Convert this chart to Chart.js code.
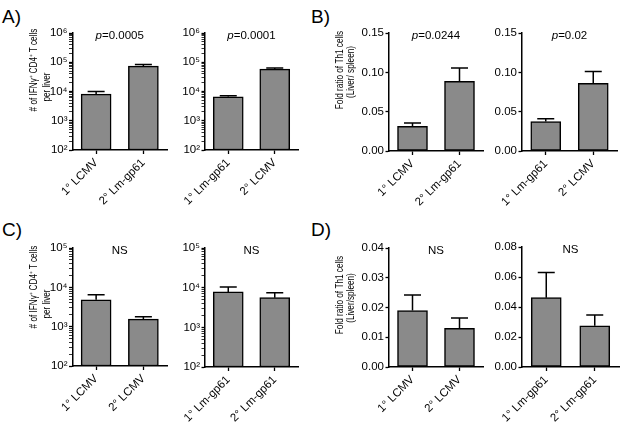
<!DOCTYPE html>
<html>
<head>
<meta charset="utf-8">
<script src="https://cdn.jsdelivr.net/npm/chart.js@4.4.0/dist/chart.umd.min.js"></script>
<style>
  body { margin: 0; background: #fff; }
  #fig { position: relative; width: 624px; height: 427px; overflow: hidden; font-family: 'Liberation Sans', Arial, sans-serif; }
  #fig canvas { position: absolute; }
  .letter { position: absolute; font-size: 19px; line-height: 1; color: #000; }
</style>
</head>
<body>
<div id="fig">
  <div class="letter" style="left:2px;top:7px">A)</div>
  <div class="letter" style="left:311px;top:7px">B)</div>
  <div class="letter" style="left:2px;top:220px">C)</div>
  <div class="letter" style="left:311px;top:220px">D)</div>
  <canvas id="a1"></canvas>
  <canvas id="a2"></canvas>
  <canvas id="b1"></canvas>
  <canvas id="b2"></canvas>
  <canvas id="c1"></canvas>
  <canvas id="c2"></canvas>
  <canvas id="d1"></canvas>
  <canvas id="d2"></canvas>
</div>
<script>
// Data (mean and mean + SEM)
const labelsA1 = ['1° LCMV', '2° Lm-gp61'];
const meansA1 = [8100, 74000];
const upperA1 = [10000, 83000];

const labelsA2 = ['1° Lm-gp61', '2° LCMV'];
const meansA2 = [6600, 58000];
const upperA2 = [7100, 64000];

const labelsB1 = ['1° LCMV', '2° Lm-gp61'];
const meansB1 = [0.0315, 0.0885];
const upperB1 = [0.0355, 0.1055];

const labelsB2 = ['1° Lm-gp61', '2° LCMV'];
const meansB2 = [0.0375, 0.086];
const upperB2 = [0.041, 0.101];

const labelsC1 = ['1° LCMV', '2° LCMV'];
const meansC1 = [4800, 1550];
const upperC1 = [6500, 1780];

const labelsC2 = ['1° Lm-gp61', '2° Lm-gp61'];
const meansC2 = [7800, 5600];
const upperC2 = [10400, 7400];

const labelsD1 = ['1° LCMV', '2° LCMV'];
const meansD1 = [0.019, 0.013];
const upperD1 = [0.0242, 0.0165];

const labelsD2 = ['1° Lm-gp61', '2° Lm-gp61'];
const meansD2 = [0.0462, 0.0275];
const upperD2 = [0.063, 0.0346];

// Tick values and labels
const logTicksA = [1e2, 1e3, 1e4, 1e5, 1e6];
const logLabelsA = ['10²', '10³', '10⁴', '10⁵', '10⁶'];
const logTicksC = [1e2, 1e3, 1e4, 1e5];
const logLabelsC = ['10²', '10³', '10⁴', '10⁵'];
const minorSteps = [2, 3, 4, 5, 6, 7, 8, 9];
const ticksB = [0, 0.05, 0.10, 0.15];
const ticksD1 = [0, 0.01, 0.02, 0.03, 0.04];
const ticksD2 = [0, 0.02, 0.04, 0.06, 0.08];

// Texts
const titleCells = ['# of IFNγ⁺ CD4⁺ T cells', 'per liver'];
const titleRatioB = ['Fold ratio of Th1 cells', '(Liver/ spleen)'];
const titleRatioD = ['Fold ratio of Th1 cells', '(Liver/spleen)'];
const notes = ['p=0.0005', 'p=0.0001', 'p=0.0244', 'p=0.02', 'NS', 'NS', 'NS', 'NS'];

const FONT = "'Liberation Sans', Arial, sans-serif";
const tickFont = { family: FONT, size: 11.5 };

// log axis: majors plus 2..9 minors in each decade
function logAxis(majors, labels) {
    const all = [];
    majors.forEach((m, i) => {
        all.push(m);
        if (i < majors.length - 1) minorSteps.forEach(k => all.push(k * m));
    });
    return {
        type: 'logarithmic', min: majors[0], max: majors[majors.length - 1], values: all,
        label: v => { const i = majors.indexOf(v); return i >= 0 ? labels[i] : ''; },
        isMajor: v => majors.includes(v)
    };
}

function linAxis(values) {
    return {
        type: 'linear', min: values[0], max: values[values.length - 1], values: values,
        label: v => v.toFixed(2), isMajor: () => true
    };
}

// title: {lines, pos: [[x, y], [x, y]]} in figure coords, each line centred on its point
function makePanel(id, box, area, labels, means, upper, axis, note, title) {
    const canvas = document.getElementById(id);
    canvas.width = box.w;
    canvas.height = box.h;
    canvas.style.left = box.x + 'px';
    canvas.style.top = box.y + 'px';

    // upper error bars (mean + SEM)
    const errorBars = {
        id: 'errorBars',
        afterDatasetsDraw(chart) {
            const ctx = chart.ctx;
            const y = chart.scales.y;
            ctx.save();
            ctx.strokeStyle = '#000';
            ctx.lineWidth = 1.5;
            chart.getDatasetMeta(0).data.forEach((bar, i) => {
                const top = y.getPixelForValue(upper[i]);
                ctx.beginPath();
                ctx.moveTo(bar.x, bar.y);
                ctx.lineTo(bar.x, top);
                ctx.moveTo(bar.x - 8.5, top);
                ctx.lineTo(bar.x + 8.5, top);
                ctx.stroke();
            });
            ctx.restore();
        }
    };

    // p-value / NS text above the bars, and the rotated y title
    const texts = {
        id: 'texts',
        afterDraw(chart) {
            const ctx = chart.ctx;
            const ca = chart.chartArea;
            const cx = (ca.left + ca.right) / 2;
            const cy = ca.top + 3;
            ctx.save();
            ctx.fillStyle = '#000';
            ctx.textBaseline = 'middle';
            if (note.startsWith('p=')) {
                const rest = note.slice(1);
                ctx.font = 'italic 11.5px ' + FONT;
                const wp = ctx.measureText('p').width;
                ctx.font = '11.5px ' + FONT;
                const wr = ctx.measureText(rest).width;
                const x0 = cx - (wp + wr) / 2;
                ctx.textAlign = 'left';
                ctx.font = 'italic 11.5px ' + FONT;
                ctx.fillText('p', x0, cy);
                ctx.font = '11.5px ' + FONT;
                ctx.fillText(rest, x0 + wp, cy);
            } else {
                ctx.textAlign = 'center';
                ctx.font = '11.5px ' + FONT;
                ctx.fillText(note, cx, cy);
            }
            if (title) {
                // the figure's axis titles are squeezed along their length
                ctx.font = '10px ' + FONT;
                ctx.textAlign = 'center';
                title.lines.forEach((line, i) => {
                    const [px, py] = title.pos[i];
                    ctx.save();
                    ctx.translate(px - box.x, py - box.y);
                    ctx.rotate(-Math.PI / 2);
                    ctx.scale(0.82, 1);
                    ctx.fillText(line, 0, 0);
                    ctx.restore();
                });
            }
            ctx.restore();
        }
    };

    return new Chart(canvas, {
        type: 'bar',
        data: {
            labels: labels,
            datasets: [{
                data: means,
                backgroundColor: '#8a8a8a',
                borderColor: '#000',
                borderWidth: 1.5,
                borderSkipped: false,
                barThickness: 30
            }]
        },
        options: {
            responsive: false,
            animation: false,
            devicePixelRatio: 1,
            layout: {
                padding: { left: 0, bottom: 0, top: area.t - box.y, right: box.x + box.w - area.r }
            },
            plugins: { legend: { display: false }, tooltip: { enabled: false } },
            scales: {
                x: {
                    type: 'category',
                    offset: true,
                    afterFit: s => { s.height = box.y + box.h - area.b; },
                    ticks: { color: '#000', font: tickFont, minRotation: 45, maxRotation: 45, autoSkip: false, padding: 2 },
                    grid: { offset: false, drawOnChartArea: false, drawTicks: true, tickLength: 4, tickColor: '#000', tickWidth: 1.3 },
                    border: { color: '#000', width: 1.5 }
                },
                y: {
                    type: axis.type,
                    min: axis.min,
                    max: axis.max,
                    afterFit: s => { s.width = area.l - box.x; },
                    afterBuildTicks: s => { s.ticks = axis.values.map(v => ({ value: v })); },
                    ticks: { color: '#000', font: tickFont, autoSkip: false, padding: 1.5, callback: v => axis.label(v) },
                    grid: {
                        drawOnChartArea: false, drawTicks: true, tickLength: 3.5, tickColor: '#000',
                        tickWidth: c => (c.tick && axis.isMajor(c.tick.value)) ? 1.3 : 0.8
                    },
                    border: { color: '#000', width: 1.5 }
                }
            }
        },
        plugins: [errorBars, texts]
    });
}

const axisA = logAxis(logTicksA, logLabelsA);
const axisC = logAxis(logTicksC, logLabelsC);

makePanel('a1', { x: 0, y: 0, w: 172, h: 215 }, { l: 72.5, t: 33, r: 167, b: 150 },
    labelsA1, meansA1, upperA1, axisA, notes[0], { lines: titleCells, pos: [[34, 70], [47, 87]] });
makePanel('a2', { x: 172, y: 0, w: 130, h: 215 }, { l: 205, t: 33, r: 298, b: 150 },
    labelsA2, meansA2, upperA2, axisA, notes[1], null);
makePanel('b1', { x: 302, y: 0, w: 185, h: 215 }, { l: 389, t: 33, r: 483, b: 151 },
    labelsB1, meansB1, upperB1, linAxis(ticksB), notes[2], { lines: titleRatioB, pos: [[340, 70], [351, 72]] });
makePanel('b2', { x: 487, y: 0, w: 137, h: 215 }, { l: 522, t: 33, r: 617, b: 151 },
    labelsB2, meansB2, upperB2, linAxis(ticksB), notes[3], null);
makePanel('c1', { x: 0, y: 215, w: 172, h: 212 }, { l: 72.5, t: 248, r: 167, b: 366 },
    labelsC1, meansC1, upperC1, axisC, notes[4], { lines: titleCells, pos: [[34, 287], [47, 304]] });
makePanel('c2', { x: 172, y: 215, w: 130, h: 212 }, { l: 205, t: 248, r: 298, b: 367 },
    labelsC2, meansC2, upperC2, axisC, notes[5], null);
makePanel('d1', { x: 302, y: 215, w: 185, h: 212 }, { l: 389, t: 248, r: 483, b: 367 },
    labelsD1, meansD1, upperD1, linAxis(ticksD1), notes[6], { lines: titleRatioD, pos: [[340, 295], [351, 298]] });
makePanel('d2', { x: 487, y: 215, w: 137, h: 212 }, { l: 522, t: 247, r: 619, b: 367 },
    labelsD2, meansD2, upperD2, linAxis(ticksD2), notes[7], null);
</script>
</body>
</html>
